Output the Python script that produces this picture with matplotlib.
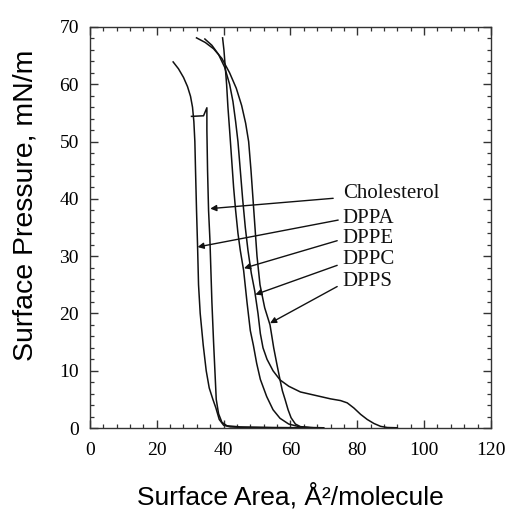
import matplotlib
matplotlib.use("Agg")
import matplotlib.pyplot as plt
from matplotlib.ticker import MultipleLocator

# ── Isotherm data (area in A^2/molecule, pressure in mN/m) ─────────────────
chol_x = [30.4, 34.0, 35.0, 35.0, 35.2, 35.5, 35.9, 36.5, 37.0, 37.4, 37.8, 38.5, 39.5, 41.0, 45.0, 55.0, 65.0]
chol_y = [54.4, 54.5, 55.9, 52.0, 45.0, 38.0, 33.0, 22.0, 15.0, 10.0, 5.0, 2.5, 1.0, 0.4, 0.2, 0.1, 0.05]

dppa_x = [24.9, 26.5, 28.0, 29.2, 30.1, 30.7, 31.1, 31.4, 31.6, 31.9, 32.2, 32.5, 33.0, 33.9, 34.8, 35.7, 36.8, 37.7, 38.7, 40.0, 42.0, 46.0, 55.0]
dppa_y = [63.9, 62.7, 61.2, 59.6, 57.9, 56.0, 53.5, 50.0, 45.0, 38.0, 32.0, 25.0, 20.0, 14.5, 10.0, 7.0, 5.0, 3.5, 1.5, 0.5, 0.2, 0.1, 0.05]

dppe_x = [39.7, 40.1, 40.5, 40.9, 41.3, 41.8, 42.4, 43.0, 43.6, 44.3, 45.0, 46.0, 47.0, 48.0, 48.9, 49.9, 51.0, 52.9, 54.8, 56.9, 59.5, 62.9, 67.0]
dppe_y = [68.1, 66.0, 63.0, 60.0, 56.0, 52.0, 47.0, 42.0, 38.0, 34.0, 31.0, 27.5, 22.0, 17.0, 14.5, 11.3, 8.5, 5.5, 3.2, 1.7, 0.7, 0.2, 0.05]

dppc_x = [34.4, 36.5, 38.5, 40.3, 41.8, 42.8, 43.6, 44.3, 45.0, 45.7, 46.5, 47.3, 48.3, 49.3, 50.3, 51.0, 51.8, 53.0, 54.8, 56.9,
          59.5, 63.0, 66.0, 69.0, 72.0, 75.0, 77.0, 79.0, 81.0, 83.0, 85.0, 87.0, 89.0, 92.0]
dppc_y = [67.9, 66.8, 65.2, 63.0, 60.0, 57.0, 53.5, 50.0, 45.0, 40.0, 35.0, 31.0, 27.0, 24.0, 20.0, 16.5, 14.0, 12.0, 10.0, 8.4,
          7.3, 6.3, 5.9, 5.5, 5.1, 4.8, 4.4, 3.5, 2.4, 1.5, 0.8, 0.3, 0.1, 0.05]

dpps_x = [31.9, 34.5, 37.0, 39.5, 41.8, 43.8, 45.4, 46.6, 47.5, 48.2, 48.8, 49.4, 50.0, 50.9, 52.3, 53.9, 55.0, 56.0, 56.9,
          57.6, 58.4, 59.3, 60.2, 61.5, 63.0, 66.0, 70.0]
dpps_y = [68.1, 67.3, 66.2, 64.5, 62.0, 59.3, 56.3, 53.2, 50.0, 45.0, 40.0, 35.0, 30.0, 25.0, 21.0, 18.0, 14.0, 11.0, 8.4,
          6.5, 5.0, 3.2, 1.8, 0.7, 0.25, 0.1, 0.05]

labels     = ["Cholesterol", "DPPA", "DPPE", "DPPC", "DPPS"]
label_xy   = [(75.7, 41.0), (75.7, 36.6), (75.7, 33.0), (75.7, 29.4), (75.7, 25.6)]
arrow_from = [(72.8, 40.1), (74.3, 36.3), (74.0, 32.7), (74.0, 28.4), (74.0, 24.7)]
arrow_to   = [(36.0, 38.3), (32.2, 31.6), (46.1, 27.9), (49.5, 23.3), (53.9, 18.3)]

fig = plt.figure(figsize=(5.14, 5.09), dpi=100)
fig.patch.set_facecolor("white")
ax = fig.add_axes([0.175, 0.159, 0.780, 0.788])

for xs, ys in [(chol_x, chol_y), (dppa_x, dppa_y), (dppe_x, dppe_y), (dppc_x, dppc_y), (dpps_x, dpps_y)]:
    ax.plot(xs, ys, color="#111111", lw=1.1)

for lab, txy, a0, a1 in zip(labels, label_xy, arrow_from, arrow_to):
    ax.text(txy[0], txy[1], lab, fontsize=15, family="Liberation Serif",
            ha="left", va="center", color="#111111")
    ax.annotate("", xy=a1, xytext=a0,
                arrowprops=dict(arrowstyle="-|>", lw=1.0, color="#111111",
                                mutation_scale=9, shrinkA=0, shrinkB=0))

ax.set_xlim(0, 120)
ax.set_ylim(0, 70)
ax.xaxis.set_major_locator(MultipleLocator(20))
ax.xaxis.set_minor_locator(MultipleLocator(4))
ax.yaxis.set_major_locator(MultipleLocator(10))
ax.yaxis.set_minor_locator(MultipleLocator(2))
ax.tick_params(which="both", direction="in", top=True, right=True, color="#333333")
ax.tick_params(which="major", length=6, width=1.0, labelsize=14)
ax.tick_params(axis="x", which="major", pad=10)
ax.tick_params(axis="y", which="major", pad=8)
ax.tick_params(which="minor", length=3, width=0.9)
for lbl in ax.get_xticklabels() + ax.get_yticklabels():
    lbl.set_family("Liberation Serif")
for sp in ax.spines.values():
    sp.set_linewidth(1.0)
    sp.set_color("#333333")

ax.set_xlabel("Surface Area, Å²/molecule", fontsize=19, family="Liberation Sans", labelpad=17)
ax.set_ylabel("Surface Pressure, mN/m", fontsize=20.5, family="Liberation Sans")
ax.yaxis.set_label_coords(-0.128, 0.555)

plt.savefig("out.png", dpi=100)
plt.close()
